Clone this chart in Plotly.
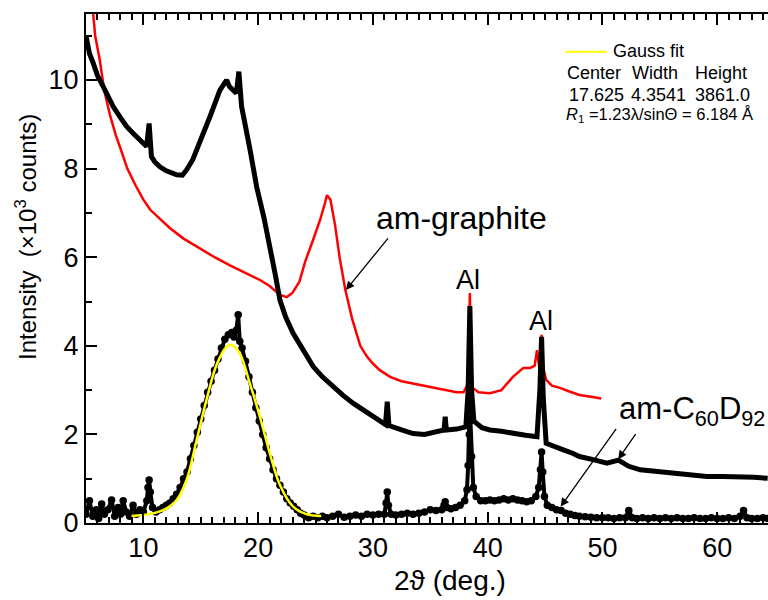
import plotly.graph_objects as go

# ---- am-graphite (red) ----
graphite_x = [5.5, 5.8, 6.2, 6.6, 7.1, 7.6, 8.0, 8.6, 9.3, 10.0,
              10.6, 11.5, 12.3, 13.5, 14.9, 16.2, 17.5, 18.8, 20.2, 21.0,
              21.9, 22.5, 23.0, 23.6, 24.1, 24.8, 25.4, 25.8, 26.0, 26.3,
              26.7, 27.1, 27.6, 28.2, 28.9, 29.5, 30.0, 30.6, 31.5, 32.5,
              33.5, 34.5, 35.5, 36.4, 37.3, 37.9, 38.2, 38.35, 38.45, 38.55,
              38.7, 39.2, 40.2, 41.2, 42.2, 43.1, 43.7, 44.1, 44.3, 44.5,
              44.7, 44.85, 45.1, 45.6, 46.3, 47.0, 48.0, 49.0, 49.9]
graphite_y = [11.85, 11.0, 10.45, 9.75, 9.2, 8.75, 8.46, 8.0, 7.63, 7.3,
              7.07, 6.85, 6.66, 6.42, 6.2, 6.0, 5.82, 5.65, 5.48, 5.35,
              5.15, 5.1, 5.2, 5.45, 5.9, 6.4, 6.84, 7.2, 7.4, 7.3,
              6.73, 6.0, 5.26, 4.6, 4.0, 3.75, 3.6, 3.45, 3.3, 3.2,
              3.15, 3.1, 3.05, 3.0, 2.95, 2.95, 3.1, 3.8, 5.19, 3.6,
              3.05, 2.95, 2.93, 3.0, 3.3, 3.5, 3.5, 3.55, 3.9, 3.5,
              4.25, 3.5, 3.23, 3.1, 3.05, 2.98, 2.89, 2.85, 2.81]

# ---- am-C60D92 raw (black line) ----
raw_x = [5.0, 5.1, 5.3, 5.63, 6.0, 6.5, 7.0, 7.37, 8.0, 8.54,
         9.1, 9.7, 10.28, 10.5, 10.7, 11.0, 11.44, 12.0, 12.9, 13.4,
         13.76, 14.3, 14.9, 15.8, 16.67, 17.25, 17.5, 17.8, 18.1, 18.32,
         18.56, 19.3, 19.87, 20.5, 21.0, 21.5, 21.9, 22.4, 23.05, 24.0,
         24.8, 25.6, 26.5, 27.4, 28.3, 29.5, 30.6, 31.1, 31.25, 31.4,
         32.5, 33.5, 34.5, 35.5, 36.2, 36.3, 36.4, 37.3, 38.1, 38.3,
         38.45, 38.6, 38.8, 39.5, 40.2, 41.2, 42.2, 43.3, 44.3, 44.55,
         44.7, 44.85, 45.1, 45.8, 46.6, 47.45, 48.0, 49.2, 50.4, 51.4,
         52.3, 53.3, 54.7, 56.2, 57.7, 59.1, 60.5, 62.0, 63.2, 64.4]
raw_y = [11.0, 10.8, 10.6, 10.38, 10.1, 9.85, 9.6, 9.4, 9.15, 8.95,
         8.8, 8.65, 8.5, 9.02, 8.27, 8.15, 8.04, 7.95, 7.86, 7.85,
         7.97, 8.2, 8.57, 9.17, 9.77, 10.0, 9.85, 9.77, 9.7, 10.19,
         9.4, 8.42, 7.59, 6.9, 6.3, 5.6, 5.03, 4.65, 4.28, 3.85,
         3.53, 3.3, 3.08, 2.88, 2.7, 2.5, 2.3, 2.22, 2.74, 2.2,
         2.1, 2.02, 2.0, 2.05, 2.1, 2.4, 2.1, 2.12, 2.17, 3.0,
         4.9, 3.0, 2.3, 2.15, 2.1, 2.07, 2.02, 1.98, 1.95, 3.0,
         4.2, 2.8, 1.8, 1.72, 1.65, 1.57, 1.5, 1.43, 1.35, 1.42,
         1.28, 1.2, 1.16, 1.12, 1.08, 1.05, 1.05, 1.05, 1.03, 1.01]

# ---- background-subtracted am-C60D92 (black dots) ----
dots_x = [5.0, 5.3, 5.6, 5.9, 6.1, 6.36, 6.6, 6.9, 7.23, 7.5,
          7.8, 8.0, 8.24, 8.5, 8.8, 9.1, 9.4, 9.7, 10.0, 10.3,
          10.4, 10.5, 10.6, 10.8, 11.1, 11.4, 11.7, 12.0, 12.3, 12.6,
          12.9, 13.2, 13.5, 13.8, 14.1, 14.4, 14.7, 15.0, 15.3, 15.6,
          15.9, 16.2, 16.5, 16.8, 17.1, 17.4, 17.7, 17.9, 18.1, 18.26,
          18.4, 18.6, 18.9, 19.2, 19.5, 19.8, 20.1, 20.4, 20.7, 21.0,
          21.3, 21.6, 21.9, 22.2, 22.5, 22.8, 23.1, 23.4, 23.7, 24.0,
          24.4, 24.8, 25.2, 25.6, 26.0, 26.5, 27.0, 27.5, 28.0, 28.5,
          29.0, 29.5, 30.0, 30.5, 31.0, 31.15, 31.25, 31.35, 31.6, 32.0,
          32.5, 33.0, 33.5, 34.0, 34.5, 35.0, 35.5, 36.0, 36.2, 36.3,
          36.45, 36.8, 37.2, 37.6, 38.0, 38.2, 38.3, 38.4, 38.45, 38.5,
          38.6, 38.75, 39.0, 39.4, 39.8, 40.2, 40.6, 41.0, 41.4, 41.8,
          42.2, 42.6, 43.0, 43.4, 43.8, 44.2, 44.45, 44.6, 44.7, 44.8,
          44.95, 45.2, 45.6, 46.0, 46.4, 46.8, 47.2, 47.6, 48.0, 48.5,
          49.0, 49.5, 50.0, 50.5, 51.0, 51.5, 52.0, 52.3, 52.6, 53.0,
          53.5, 54.0, 54.5, 55.0, 55.5, 56.0, 56.5, 57.0, 57.5, 58.0,
          58.5, 59.0, 59.5, 60.0, 60.5, 61.0, 61.5, 62.0, 62.3, 62.6,
          63.0, 63.5, 64.0, 64.4]
dots_y = [0.2, 0.5, 0.15, 0.3, 0.1, 0.43, 0.2, 0.3, 0.52, 0.15,
          0.35, 0.2, 0.5, 0.25, 0.15, 0.4, 0.2, 0.3, 0.25, 0.5,
          0.8, 0.97, 0.7, 0.35, 0.25, 0.3, 0.35, 0.4, 0.45, 0.55,
          0.65, 0.8, 1.0, 1.15, 1.45, 1.75, 2.05, 2.35, 2.65, 2.95,
          3.2, 3.45, 3.7, 3.95, 4.15, 4.25, 4.3, 4.2, 4.35, 4.7,
          4.1, 3.95, 3.65, 3.3, 2.95, 2.6, 2.3, 2.0, 1.7, 1.45,
          1.2, 1.0, 0.85, 0.7, 0.55, 0.45, 0.38, 0.3, 0.22, 0.18,
          0.12, 0.15, 0.12, 0.15, 0.12, 0.15, 0.2, 0.13, 0.15, 0.18,
          0.15, 0.2, 0.18, 0.2, 0.2, 0.45, 0.7, 0.4, 0.2, 0.18,
          0.2, 0.22, 0.2, 0.22, 0.25, 0.3, 0.28, 0.3, 0.4, 0.48,
          0.35, 0.32, 0.35, 0.4, 0.5, 0.75, 1.3, 2.0, 2.85, 2.3,
          1.5, 0.8, 0.6, 0.5, 0.5, 0.52, 0.5, 0.52, 0.55, 0.52,
          0.55, 0.52, 0.5, 0.48, 0.5, 0.6, 0.8, 1.2, 1.6, 1.15,
          0.6, 0.4, 0.35, 0.3, 0.28, 0.22, 0.2, 0.17, 0.15, 0.14,
          0.13, 0.12, 0.12, 0.12, 0.1, 0.12, 0.12, 0.28, 0.12, 0.1,
          0.12, 0.1, 0.12, 0.1, 0.12, 0.1, 0.12, 0.1, 0.1, 0.12,
          0.1, 0.1, 0.12, 0.1, 0.1, 0.12, 0.1, 0.15, 0.28, 0.12,
          0.1, 0.1, 0.12, 0.1]

# ---- Gauss fit (yellow) ----
fit_x = [8.97, 10.5, 11.72, 12.9, 13.76, 14.64, 15.5, 16.38, 17.25, 17.69,
         18.4, 19.28, 20.15, 21.02, 21.9, 23.05, 24.2, 25.5]
fit_y = [0.16, 0.2, 0.29, 0.52, 0.97, 1.87, 2.78, 3.57, 3.98, 4.02,
         3.83, 3.15, 2.4, 1.57, 0.86, 0.37, 0.2, 0.16]

x_range = [5, 64.43]
y_range = [0, 11.49]
x_ticks = [10, 20, 30, 40, 50, 60]
y_ticks = [0, 2, 4, 6, 8, 10]

FONT = "Liberation Sans, Arial, sans-serif"

fig = go.Figure()
fig.add_trace(go.Scatter(x=graphite_x, y=graphite_y, mode="lines",
                         line=dict(color="#ff0000", width=2.5), showlegend=False))
fig.add_trace(go.Scatter(x=raw_x, y=raw_y, mode="lines",
                         line=dict(color="black", width=5), showlegend=False))
fig.add_trace(go.Scatter(x=dots_x, y=dots_y, mode="lines+markers",
                         line=dict(color="black", width=4),
                         marker=dict(color="black", size=7.5), showlegend=False))
fig.add_trace(go.Scatter(x=fit_x, y=fit_y, mode="lines", line_shape="spline",
                         line=dict(color="#ffff00", width=2.5), showlegend=False))

def px2paper(px, py):
    return (px - 86) / 682.0, (523 - py) / 509.0

ann = []
x0, y0 = px2paper(450, 580)
ann.append(dict(text="2ϑ (deg.)", x=x0, y=y0, xref="paper", yref="paper",
                xanchor="center", yanchor="middle", showarrow=False,
                font=dict(size=28, family=FONT, color="black")))
x0, y0 = px2paper(26, 237)
ann.append(dict(text="Intensity  (×10<sup>3</sup> counts)", x=x0, y=y0,
                xref="paper", yref="paper", textangle=-90, showarrow=False,
                xanchor="center", yanchor="middle",
                font=dict(size=24, family=FONT, color="black")))
ann.append(dict(text="am-graphite", x=37.73, y=6.88, showarrow=False,
                xanchor="center", yanchor="middle",
                font=dict(size=32, family=FONT, color="black")))
ann.append(dict(text="Al", x=38.28, y=5.49, showarrow=False,
                xanchor="center", yanchor="middle",
                font=dict(size=27, family=FONT, color="black")))
ann.append(dict(text="Al", x=44.68, y=4.56, showarrow=False,
                xanchor="center", yanchor="middle",
                font=dict(size=27, family=FONT, color="black")))
x0, y0 = px2paper(767, 411)
ann.append(dict(text="am-C<sub>60</sub>D<sub>92</sub>", x=x0, y=y0,
                xref="paper", yref="paper", xanchor="right", yanchor="middle",
                showarrow=False, font=dict(size=31, family=FONT, color="black")))
for tip, tail in [((27.65, 5.26), (31.42, 6.46)),
                  ((46.36, 0.37), (51.29, 2.16)),
                  ((51.38, 1.44), (52.98, 2.04))]:
    ann.append(dict(text="", x=tip[0], y=tip[1], ax=tail[0], ay=tail[1],
                    axref="x", ayref="y", showarrow=True, arrowhead=2,
                    arrowsize=1.3, arrowwidth=1.3, arrowcolor="black"))
info = [("Gauss fit", 610.7, 50.7, 18),
        ("Center", 565, 73.3, 18), ("Width", 630, 73.3, 18), ("Height", 693, 73.3, 18),
        ("17.625", 567, 95, 18), ("4.3541", 629, 95, 18), ("3861.0", 693, 95, 18),
        ("<i>R</i><sub>1</sub> =1.23λ/sinΘ = 6.184 Å", 564, 115, 16.5)]
for t, px, py, fs in info:
    x0, y0 = px2paper(px, py)
    ann.append(dict(text=t, x=x0, y=y0, xref="paper", yref="paper",
                    xanchor="left", yanchor="middle", showarrow=False,
                    font=dict(size=fs, family=FONT, color="black")))

lx0, ly = px2paper(565, 51.7)
lx1, _ = px2paper(606.7, 51.7)
fig.add_shape(type="line", xref="paper", yref="paper", x0=lx0, x1=lx1,
              y0=ly, y1=ly, line=dict(color="#ffff00", width=2))

axis_common = dict(ticks="inside", ticklen=11, tickwidth=2, tickcolor="black",
                   showline=True, linewidth=2, linecolor="black",
                   showgrid=False, zeroline=False,
                   tickfont=dict(size=27, family=FONT, color="black"),
                   minor=dict(dtick=1, ticks="inside", ticklen=6, tickwidth=1.5,
                              tickcolor="black", showgrid=False))

fig.update_layout(
    width=768, height=600,
    margin=dict(l=86, r=0, t=14, b=77),
    paper_bgcolor="white", plot_bgcolor="white",
    annotations=ann,
    font=dict(family=FONT, color="black"),
    xaxis=dict(range=x_range, tickvals=x_ticks, mirror="ticks", **axis_common),
    yaxis=dict(range=y_range, tickvals=y_ticks, mirror=False, **axis_common),
)

fig.write_html("out.html")
